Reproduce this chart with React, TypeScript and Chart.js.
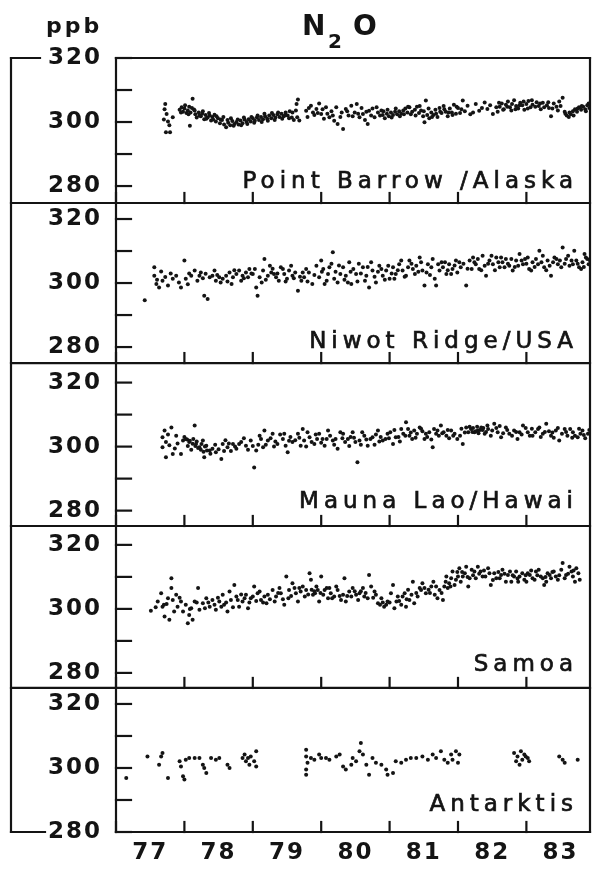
import React, { useEffect, useRef } from 'react';
import { Chart, registerables } from 'chart.js';

Chart.register(...registerables);

const INK = '#141414';
const FONT = '"DejaVu Sans", "Liberation Sans", sans-serif';

// Station names, one per panel (top to bottom)
const stations = ['Point Barrow /Alaska', 'Niwot Ridge/USA', 'Mauna Lao/Hawai', 'Samoa', 'Antarktis'];

// Axis ticks
const yearTicks = [77, 78, 79, 80, 81, 82, 83];
const yearLabels = ['77', '78', '79', '80', '81', '82', '83'];
const ppbTicks = [280, 290, 300, 310, 320];
const ppbLabels = ['280', '', '300', '', '320'];

// Axis ranges: time in years (19xx) and mixing ratio in ppb per panel
const yearMin = 77;
const yearMax = 83.93;
const panelMin = [274.7, 275, 275.2, 275.3, 280];
const panelMax = [320, 325, 326.1, 325.9, 325];

// N2O mixing ratios [year, ppb]
const pointBarrow: [number, number][] = [
  [77.72, 305.6], [77.71, 304.0], [77.74, 302.5], [77.70, 300.8], [77.76, 300.2], [77.73, 296.8], [77.79, 296.8],
  [77.78, 299.0], [77.83, 301.5], [77.93, 303.8], [77.96, 304.6], [77.98, 303.2], [78.00, 304.2], [78.03, 302.8],
  [78.05, 303.6], [78.07, 304.8], [78.09, 303.0], [78.12, 307.3], [78.14, 303.9], [78.16, 302.4], [78.18, 301.4],
  [78.08, 298.8], [78.21, 303.0], [78.24, 301.8], [78.26, 302.6], [78.29, 300.9], [78.31, 302.2], [78.34, 301.4],
  [78.36, 302.8], [78.39, 300.5], [78.41, 301.6], [78.44, 302.3], [78.46, 300.2], [78.49, 301.2], [78.52, 299.6],
  [78.55, 300.6], [78.58, 299.2], [78.61, 298.4], [78.64, 299.8], [78.67, 299.0], [78.70, 300.3], [78.73, 299.4],
  [78.76, 300.0], [78.79, 299.2], [78.82, 300.5], [78.85, 299.6], [78.88, 300.8], [78.91, 300.0], [78.94, 300.9],
  [78.97, 300.2], [79.00, 301.2], [79.03, 300.4], [79.06, 301.4], [79.09, 300.6], [79.12, 301.6], [79.15, 300.9],
  [79.18, 301.8], [79.21, 301.0], [79.24, 302.0], [79.27, 301.2], [79.30, 302.2], [79.33, 301.4], [79.36, 302.4],
  [79.39, 301.6], [79.42, 302.6], [79.45, 301.8], [79.48, 303.0], [79.51, 302.0], [79.54, 303.4], [79.57, 301.4],
  [79.60, 300.6], [79.66, 307.0], [79.64, 305.6], [79.63, 303.6], [79.65, 301.5], [79.68, 300.5], [79.78, 303.5],
  [79.85, 305.1], [79.93, 304.1], [80.00, 302.5], [80.07, 304.6], [80.12, 301.5], [80.19, 300.4], [80.24, 299.4],
  [80.32, 297.8], [80.36, 304.1], [80.44, 305.1], [80.49, 303.0], [80.56, 301.5], [80.61, 302.5], [80.68, 299.4],
  [80.70, 303.5], [80.78, 301.5], [80.83, 303.0], [79.80, 301.6], [79.90, 302.2], [79.97, 305.8], [80.04, 301.0],
  [80.15, 303.4], [80.28, 301.6], [80.40, 302.0], [80.52, 305.6], [80.64, 300.6], [80.75, 304.2], [80.86, 302.0],
  [80.90, 302.2], [80.93, 301.2], [80.96, 302.6], [80.99, 301.8], [81.02, 303.0], [81.05, 302.2], [81.08, 303.2],
  [81.11, 302.4], [81.14, 303.4], [81.17, 302.6], [81.20, 303.6], [81.23, 304.2], [81.26, 303.0], [81.29, 304.6],
  [81.31, 302.4], [81.37, 303.8], [81.40, 304.8], [81.43, 302.8], [81.46, 303.6], [81.49, 301.8], [81.51, 299.9],
  [81.53, 306.7], [81.55, 302.2], [81.58, 301.2], [81.61, 303.0], [81.64, 302.2], [81.67, 303.8], [81.70, 301.6],
  [81.73, 304.4], [81.76, 302.8], [81.79, 305.0], [81.82, 303.2], [81.85, 301.8], [81.88, 304.2], [81.91, 303.0],
  [81.94, 305.4], [81.97, 302.6], [82.00, 304.4], [82.07, 306.7], [82.14, 305.1], [82.22, 303.0], [82.26, 305.6],
  [82.31, 303.5], [82.39, 306.1], [82.43, 304.1], [82.51, 302.5], [82.56, 304.6], [82.03, 302.8], [82.05, 304.0],
  [82.10, 303.4], [82.18, 302.4], [82.35, 304.4], [82.47, 305.2], [82.58, 303.2], [82.61, 304.8], [82.64, 305.8],
  [82.67, 304.0], [82.70, 305.4], [82.73, 306.4], [82.76, 304.6], [82.79, 305.6], [82.82, 306.8], [82.85, 305.0],
  [82.88, 304.2], [82.91, 306.0], [82.94, 305.2], [82.97, 303.8], [83.00, 305.6], [83.03, 306.6], [83.06, 304.6],
  [83.09, 305.4], [83.36, 301.8], [83.15, 306.2], [83.18, 305.0], [83.21, 304.0], [83.24, 306.0], [83.53, 307.6],
  [83.30, 305.2], [83.33, 304.4], [83.40, 305.8], [83.44, 304.8], [83.48, 306.4], [83.56, 303.2], [83.59, 302.0],
  [83.62, 301.6], [83.65, 302.4], [83.68, 303.4], [83.71, 304.0], [83.74, 303.2], [83.77, 304.6], [83.80, 303.8],
  [83.83, 304.8], [83.86, 304.0], [83.89, 305.2], [83.92, 304.4],
  [78.22, 302.0], [78.27, 303.4], [78.32, 301.0], [78.37, 302.0], [78.42, 300.8], [78.47, 301.8], [78.53, 300.8],
  [78.57, 301.6], [78.63, 300.6], [78.68, 301.2], [78.72, 298.8], [78.78, 300.8], [78.83, 299.0], [78.87, 301.4],
  [78.92, 299.4], [78.98, 301.6], [79.02, 299.8], [79.07, 302.0], [79.13, 300.0], [79.17, 302.6], [79.22, 300.4],
  [79.28, 302.8], [79.32, 300.6], [79.37, 303.0], [79.43, 301.0], [79.47, 302.0], [79.53, 301.2], [79.58, 303.0],
  [80.91, 303.4], [80.97, 303.8], [81.03, 301.4], [81.09, 304.2], [81.15, 301.8], [81.21, 302.4], [81.27, 304.8],
  [81.33, 303.2], [81.38, 302.0], [81.44, 305.0], [81.50, 303.4], [81.57, 304.2], [81.62, 301.6], [81.68, 302.6],
  [81.74, 303.2], [81.80, 304.0], [81.86, 303.0], [81.92, 302.2], [81.98, 304.8],
  [82.60, 306.0], [82.66, 303.8], [82.72, 304.8], [82.78, 303.6], [82.84, 304.0], [82.90, 305.2], [82.96, 306.4],
  [83.02, 304.2], [83.08, 306.8], [83.13, 304.8], [83.20, 305.8], [83.26, 304.6], [83.32, 306.2], [83.38, 304.2],
  [83.46, 303.6], [83.50, 305.0], [83.57, 302.6], [83.63, 303.0], [83.69, 302.0], [83.75, 304.2], [83.81, 305.0],
  [83.87, 303.4], [83.91, 305.8],
  [77.95, 303.0], [78.01, 305.2], [78.06, 302.4], [78.11, 304.4], [78.15, 303.6],
  [79.82, 304.4], [79.88, 303.0], [79.95, 302.8], [80.02, 304.0], [80.09, 302.6], [80.17, 302.0], [80.22, 304.6],
  [80.30, 303.0], [80.38, 303.4], [80.46, 301.8], [80.54, 302.6], [80.59, 304.4], [80.66, 303.2], [80.73, 302.0],
  [80.81, 304.6], [80.88, 303.6],
];

const niwotRidge: [number, number][] = [
  [77.42, 294.6], [77.56, 304.9], [77.56, 302.3], [77.59, 299.7], [77.63, 298.6], [77.68, 300.7], [77.76, 299.2],
  [77.83, 301.3], [77.88, 302.3], [77.95, 298.6], [78.00, 307.0], [78.02, 301.3], [78.10, 302.3], [78.15, 303.9],
  [78.22, 302.3], [78.24, 303.3], [78.29, 296.0], [78.34, 295.0], [78.37, 301.8], [78.41, 302.3], [78.46, 300.7],
  [78.51, 301.8], [78.56, 301.3], [78.61, 302.3], [78.66, 303.3], [78.71, 301.8], [78.76, 302.8], [78.80, 303.9],
  [78.85, 302.3], [78.90, 303.3], [78.95, 304.4], [79.00, 302.8], [79.05, 298.6], [79.07, 296.0], [79.10, 301.8],
  [79.15, 303.9], [79.17, 307.5], [79.22, 302.3], [79.27, 303.3], [79.34, 301.8], [79.41, 304.9], [79.46, 302.8],
  [79.53, 303.9], [79.58, 302.3], [79.66, 297.6], [79.71, 300.7], [79.73, 303.3], [79.78, 304.4], [79.93, 305.4],
  [79.97, 301.8], [80.00, 307.0], [80.05, 299.7], [80.10, 302.8], [80.12, 304.9], [80.17, 309.6], [80.19, 301.3],
  [80.24, 300.2], [80.32, 304.9], [80.36, 302.3], [80.41, 306.5], [80.44, 299.7], [80.51, 302.8], [80.61, 304.9],
  [80.66, 302.3], [80.70, 298.6], [80.75, 303.9], [80.80, 300.2], [80.85, 305.4], [80.90, 302.3], [80.95, 303.9],
  [81.00, 301.3], [81.05, 304.9], [81.09, 302.8], [81.14, 305.9], [81.19, 303.9], [81.24, 302.3], [81.29, 307.0],
  [81.34, 304.4], [81.39, 305.4], [81.44, 308.0], [81.48, 303.9], [81.51, 299.2], [81.56, 305.9], [81.61, 304.9],
  [81.66, 301.3], [81.68, 299.2], [81.73, 303.9], [81.78, 304.9], [81.83, 302.8], [81.87, 305.9], [81.92, 304.4],
  [81.99, 303.3], [82.04, 304.9], [82.12, 299.2], [82.17, 307.0], [82.22, 308.0], [82.26, 305.9], [82.31, 304.4],
  [82.36, 308.5], [82.41, 302.3], [82.46, 307.0], [82.51, 305.9], [82.56, 308.0], [82.61, 304.9], [82.65, 306.5],
  [82.70, 307.5], [82.75, 305.4], [82.80, 303.9], [82.85, 307.0], [82.90, 309.1], [82.95, 305.9], [83.02, 308.0],
  [83.04, 304.4], [83.09, 306.5], [83.14, 307.5], [83.19, 310.1], [83.26, 304.9], [83.31, 307.0], [83.36, 302.3],
  [83.41, 308.0], [83.46, 305.9], [83.53, 311.1], [83.58, 307.5], [83.63, 305.4], [83.70, 310.1], [83.73, 307.0],
  [83.77, 304.9], [83.82, 306.5], [83.87, 308.0], [83.91, 305.9],
  [77.66, 303.6], [77.72, 301.9], [77.92, 300.2], [78.05, 299.6], [78.19, 300.7], [78.31, 302.9], [78.44, 303.9],
  [78.53, 300.2], [78.69, 299.7], [78.83, 300.7], [78.93, 301.8], [79.03, 304.4], [79.13, 300.2], [79.25, 305.4],
  [79.31, 302.8], [79.38, 300.7], [79.44, 304.4], [79.50, 301.3], [79.56, 305.4], [79.62, 303.3], [79.75, 301.8],
  [79.82, 303.3], [79.87, 299.7], [80.03, 304.4], [80.08, 300.7], [80.15, 306.0], [80.28, 302.8], [80.39, 300.2],
  [80.47, 304.4], [80.55, 306.0], [80.64, 300.7], [80.73, 306.5], [80.88, 304.4], [80.98, 305.4], [81.07, 301.3],
  [81.17, 307.0], [81.27, 304.9], [81.37, 302.8], [81.46, 306.5], [81.54, 303.3], [81.63, 307.5], [81.71, 305.9],
  [81.81, 306.5], [81.90, 302.8], [81.97, 307.0], [82.08, 306.0], [82.20, 304.4], [82.29, 307.5], [82.39, 305.4],
  [82.49, 308.5], [82.59, 306.5], [82.68, 304.9], [82.78, 307.5], [82.88, 305.4], [82.98, 307.5], [83.07, 303.9],
  [83.17, 305.9], [83.24, 308.5], [83.34, 305.4], [83.44, 307.5], [83.51, 304.9], [83.61, 308.5], [83.68, 305.9],
  [83.80, 304.4], [83.85, 309.1], [83.93, 307.0],
  [77.60, 301.0], [77.80, 303.0], [78.07, 303.0], [78.27, 301.5], [78.48, 302.5], [78.63, 300.5], [78.73, 304.0],
  [78.87, 301.5], [78.98, 303.0], [79.19, 301.0], [79.29, 304.5], [79.36, 303.0], [79.48, 300.5], [79.60, 301.5],
  [79.69, 302.0], [79.80, 300.5], [79.90, 302.5], [80.01, 303.5], [80.21, 303.5], [80.26, 305.5], [80.34, 301.0],
  [80.43, 303.5], [80.53, 300.5], [80.58, 303.0], [80.68, 305.0], [80.78, 302.0], [80.83, 303.5], [80.93, 301.0],
  [81.03, 303.0], [81.12, 304.0], [81.22, 302.0], [81.32, 306.0], [81.42, 303.5], [81.59, 302.5], [81.76, 306.5],
  [81.85, 304.0], [81.95, 305.5], [82.02, 306.5], [82.14, 304.5], [82.24, 306.5], [82.34, 304.0], [82.44, 306.0],
  [82.54, 304.0], [82.63, 308.0], [82.73, 306.0], [82.83, 305.0], [82.93, 307.0], [83.00, 306.0], [83.12, 305.0],
  [83.22, 306.5], [83.29, 304.0], [83.39, 306.5], [83.49, 307.0], [83.56, 306.0], [83.66, 307.0], [83.75, 306.0],
  [83.84, 305.0], [83.89, 307.5],
];

const maunaLoa: [number, number][] = [
  [77.71, 305.0], [77.68, 302.9], [77.73, 301.4], [77.68, 299.8], [77.73, 296.7], [77.81, 306.0], [77.83, 297.7],
  [77.88, 303.4], [77.95, 297.7], [77.98, 301.9], [78.02, 302.4], [78.07, 301.4], [78.15, 306.6], [78.17, 300.8],
  [78.22, 299.8], [78.27, 301.9], [78.29, 296.7], [78.32, 300.3], [78.37, 298.8], [78.41, 299.3], [78.46, 298.2],
  [78.54, 296.1], [78.56, 300.8], [78.63, 299.8], [78.71, 300.8], [78.76, 299.3], [78.83, 301.4], [78.90, 300.3],
  [78.97, 301.9], [79.02, 293.5], [79.05, 298.8], [79.12, 302.4], [79.17, 305.0], [79.22, 301.9], [79.29, 304.0],
  [79.36, 300.8], [79.44, 302.4], [79.51, 298.2], [79.58, 301.4], [79.66, 304.0], [79.73, 305.5], [79.75, 301.9],
  [79.83, 302.9], [79.90, 300.8], [79.97, 304.0], [80.02, 302.4], [80.10, 305.0], [80.17, 301.9], [80.24, 299.3],
  [80.32, 304.0], [80.39, 302.4], [80.46, 304.5], [80.53, 295.1], [80.56, 301.9], [80.63, 303.4], [80.68, 300.3],
  [80.75, 302.9], [80.83, 305.0], [80.90, 301.9], [80.97, 304.0], [81.05, 300.8], [81.09, 302.9], [81.17, 305.5],
  [81.24, 307.6], [81.29, 303.4], [81.36, 305.0], [81.44, 306.0], [81.51, 302.4], [81.58, 304.5], [81.63, 299.8],
  [81.68, 304.0], [81.75, 306.6], [81.83, 303.4], [81.90, 305.0], [81.99, 302.4], [82.07, 300.8], [82.12, 306.0],
  [82.19, 305.5], [82.24, 304.5], [82.29, 305.0], [82.34, 306.0], [82.39, 304.0], [82.44, 305.5], [82.48, 303.4],
  [82.53, 307.1], [82.58, 304.5], [82.63, 302.9], [82.70, 306.0], [82.75, 304.0], [82.82, 305.0], [82.87, 302.4],
  [82.95, 306.6], [83.02, 304.5], [83.09, 303.4], [83.17, 305.5], [83.24, 304.0], [83.29, 307.1], [83.36, 303.4],
  [83.43, 305.0], [83.48, 301.9], [83.56, 305.5], [83.60, 303.4], [83.68, 304.5], [83.75, 302.9], [83.82, 305.0],
  [83.90, 304.0],
  [78.00, 303.0], [78.04, 302.2], [78.08, 301.8], [78.12, 300.9], [78.16, 300.2], [78.20, 299.6], [78.24, 299.0],
  [78.28, 298.4], [78.33, 298.8], [78.38, 297.8], [78.05, 300.2], [78.13, 302.4], [78.25, 300.8],
  [77.76, 303.8], [77.90, 301.0], [78.45, 300.6], [78.60, 302.0], [78.68, 298.6], [78.80, 300.8], [78.87, 302.6],
  [79.08, 300.6], [79.15, 299.8], [79.26, 302.6], [79.33, 301.6], [79.40, 303.8], [79.48, 300.3], [79.55, 303.0],
  [79.62, 302.0], [79.70, 300.3], [79.80, 304.5], [79.86, 301.4], [79.94, 302.4], [80.05, 300.3], [80.13, 303.4],
  [80.21, 302.4], [80.28, 304.5], [80.35, 301.4], [80.43, 303.0], [80.50, 301.4], [80.60, 304.5], [80.72, 302.4],
  [80.80, 303.8], [80.87, 303.0], [80.94, 302.4], [81.01, 304.5], [81.13, 303.0], [81.20, 304.0], [81.27, 305.5],
  [81.33, 302.4], [81.40, 304.0], [81.48, 304.8], [81.55, 303.0], [81.65, 305.5], [81.72, 303.4], [81.79, 304.5],
  [81.87, 302.6], [81.95, 304.0], [82.03, 303.4], [82.15, 304.5], [82.22, 305.8], [82.26, 304.8], [82.32, 305.2],
  [82.37, 305.8], [82.41, 304.6], [82.56, 305.8], [82.66, 304.2], [82.79, 303.4], [82.90, 304.5], [82.99, 305.8],
  [83.05, 303.4], [83.13, 304.5], [83.21, 303.0], [83.33, 304.8], [83.40, 302.8], [83.52, 304.0], [83.64, 305.5],
  [83.71, 303.4], [83.79, 304.0], [83.86, 302.6],
  [77.78, 300.4], [77.86, 299.4], [78.10, 299.0], [78.18, 301.6], [78.30, 300.0], [78.50, 299.2], [78.58, 298.6],
  [78.65, 301.0], [78.74, 300.0], [78.93, 299.0], [79.00, 300.2], [79.10, 303.4], [79.19, 300.6], [79.31, 300.0],
  [79.46, 304.0], [79.53, 301.8], [79.68, 302.8], [79.78, 300.0], [79.92, 303.8], [80.00, 301.2], [80.08, 302.4],
  [80.19, 300.6], [80.31, 302.6], [80.41, 300.2], [80.48, 302.8], [80.58, 300.6], [80.66, 302.2], [80.78, 300.6],
  [80.85, 301.6], [80.99, 302.6], [81.07, 305.2], [81.15, 301.6], [81.23, 303.4], [81.31, 304.4], [81.38, 302.8],
  [81.46, 305.6], [81.53, 304.0], [81.61, 302.2], [81.70, 305.0], [81.77, 304.2], [81.85, 305.2], [81.93, 303.4],
  [82.05, 305.6], [82.10, 304.4], [82.17, 306.2], [82.21, 304.6], [82.28, 306.2], [82.30, 304.2], [82.36, 305.2],
  [82.43, 306.6], [82.50, 305.0], [82.61, 306.4], [82.72, 305.2], [82.85, 304.6], [82.93, 303.8], [83.08, 305.6],
  [83.19, 306.0], [83.27, 304.6], [83.38, 304.4], [83.46, 305.8], [83.58, 304.6], [83.67, 302.8], [83.77, 305.6],
  [83.84, 303.6], [83.92, 305.2],
];

const samoa: [number, number][] = [
  [77.51, 299.4], [77.61, 302.3], [77.66, 304.9], [77.68, 300.7], [77.71, 297.6], [77.76, 303.3], [77.78, 296.6],
  [77.81, 309.6], [77.81, 306.5], [77.83, 302.8], [77.85, 299.2], [77.90, 300.7], [77.95, 302.3], [77.98, 299.2],
  [78.02, 301.3], [78.05, 295.5], [78.07, 298.1], [78.12, 296.6], [78.15, 302.3], [78.20, 306.5], [78.22, 299.7],
  [78.27, 301.8], [78.32, 303.3], [78.37, 300.7], [78.41, 302.8], [78.46, 299.7], [78.51, 302.3], [78.56, 304.4],
  [78.58, 301.3], [78.63, 299.2], [78.68, 302.8], [78.73, 307.5], [78.76, 303.9], [78.80, 300.7], [78.85, 302.3],
  [78.90, 304.4], [78.93, 300.2], [78.97, 303.3], [79.02, 307.0], [79.07, 304.9], [79.12, 302.8], [79.17, 303.9],
  [79.22, 304.4], [79.29, 305.9], [79.34, 303.9], [79.41, 304.9], [79.46, 301.3], [79.49, 310.1], [79.53, 305.9],
  [79.58, 308.0], [79.63, 304.9], [79.66, 302.3], [79.73, 307.0], [79.78, 305.9], [79.83, 311.1], [79.85, 309.1],
  [79.88, 304.4], [79.93, 307.0], [79.97, 302.3], [80.00, 310.1], [80.05, 305.9], [80.10, 303.3], [80.14, 304.9],
  [80.19, 303.9], [80.24, 305.9], [80.29, 302.8], [80.34, 309.6], [80.36, 302.3], [80.41, 305.4], [80.46, 306.5],
  [80.51, 304.4], [80.56, 304.9], [80.63, 303.9], [80.70, 310.6], [80.73, 307.0], [80.78, 305.4], [80.83, 301.8],
  [80.88, 303.3], [80.92, 300.7], [80.97, 302.3], [81.05, 307.5], [81.07, 300.2], [81.12, 303.9], [81.17, 301.3],
  [81.22, 304.9], [81.24, 300.7], [81.29, 302.8], [81.34, 308.5], [81.36, 301.8], [81.44, 306.5], [81.48, 308.0],
  [81.53, 304.9], [81.61, 307.0], [81.66, 304.4], [81.73, 305.9], [81.78, 302.8], [81.83, 310.1], [81.87, 308.0],
  [81.92, 311.7], [81.97, 309.1], [82.02, 312.7], [82.07, 310.1], [82.12, 313.2], [82.17, 309.6], [82.24, 311.7],
  [82.29, 313.2], [82.36, 310.1], [82.44, 312.7], [82.48, 307.5], [82.53, 311.1], [82.61, 309.6], [82.65, 312.2],
  [82.73, 310.6], [82.78, 308.5], [82.85, 311.7], [82.90, 310.1], [82.97, 309.1], [83.02, 311.1], [83.09, 309.6],
  [83.14, 311.7], [83.21, 310.1], [83.26, 307.5], [83.31, 311.1], [83.36, 309.6], [83.43, 310.1], [83.51, 312.2],
  [83.53, 314.3], [83.58, 310.6], [83.63, 313.2], [83.68, 310.1], [83.73, 312.7], [83.78, 309.1],
  [77.70, 301.3], [77.88, 304.4], [78.10, 300.2], [78.30, 300.2], [78.44, 301.3], [78.54, 300.7], [78.66, 305.4],
  [78.78, 302.8], [78.88, 303.3], [79.00, 303.9], [79.10, 305.4], [79.20, 301.8], [79.32, 302.3], [79.39, 306.5],
  [79.52, 303.3], [79.61, 306.5], [79.70, 305.4], [79.76, 303.9], [79.86, 306.0], [79.91, 304.9], [79.95, 305.9],
  [80.03, 304.4], [80.08, 306.5], [80.16, 303.3], [80.22, 307.0], [80.32, 304.4], [80.44, 303.9], [80.54, 302.8],
  [80.61, 306.5], [80.68, 303.3], [80.80, 304.4], [80.86, 301.3], [80.95, 301.3], [81.02, 304.9], [81.10, 302.3],
  [81.19, 303.9], [81.27, 306.0], [81.32, 304.4], [81.41, 303.9], [81.46, 305.9], [81.57, 306.0], [81.64, 308.5],
  [81.70, 303.3], [81.80, 307.0], [81.85, 306.5], [81.90, 309.6], [81.95, 307.5], [82.00, 310.1], [82.04, 308.5],
  [82.10, 311.1], [82.15, 307.0], [82.20, 312.2], [82.26, 309.6], [82.33, 311.7], [82.40, 310.1], [82.46, 311.1],
  [82.56, 309.6], [82.63, 310.6], [82.70, 308.5], [82.76, 311.7], [82.82, 310.1], [82.88, 308.5], [82.94, 311.1],
  [83.00, 308.5], [83.05, 310.6], [83.12, 309.1], [83.18, 312.2], [83.24, 309.6], [83.29, 308.5], [83.34, 310.6],
  [83.40, 311.7], [83.46, 309.1], [83.56, 309.6], [83.66, 311.7], [83.71, 308.5], [83.76, 311.1],
  [77.58, 300.5], [77.74, 301.5], [77.93, 303.5], [78.08, 300.0], [78.18, 302.0], [78.35, 302.0], [78.49, 303.5],
  [78.61, 302.0], [78.71, 300.5], [78.83, 304.5], [78.95, 302.0], [79.05, 302.5], [79.15, 302.0], [79.25, 303.0],
  [79.37, 305.0], [79.44, 303.0], [79.56, 304.0], [79.68, 306.5], [79.81, 304.5], [79.90, 305.5], [79.99, 305.0],
  [80.12, 306.5], [80.27, 304.0], [80.38, 304.0], [80.49, 305.5], [80.58, 305.5], [80.65, 305.0], [80.76, 303.5],
  [80.90, 302.0], [81.00, 302.0], [81.14, 302.5], [81.25, 303.0], [81.39, 305.0], [81.51, 306.5], [81.59, 305.0],
  [81.68, 307.0], [81.76, 305.0], [81.82, 308.5], [81.89, 307.0], [81.99, 311.5], [82.06, 311.5], [82.14, 310.0],
  [82.22, 310.5], [82.31, 311.0], [82.38, 312.0], [82.51, 309.0], [82.59, 311.5], [82.68, 311.0], [82.80, 310.5],
  [82.87, 309.5], [82.99, 310.5], [83.07, 312.0], [83.16, 310.5], [83.28, 310.0], [83.38, 311.5], [83.48, 310.5],
  [83.61, 311.0], [83.69, 312.0],
];

const antarctica: [number, number][] = [
  [77.15, 296.9], [77.46, 303.6], [77.66, 303.6], [77.63, 301.0], [77.76, 296.9], [77.68, 304.7], [77.93, 302.1],
  [77.95, 300.5], [77.98, 297.4], [78.00, 296.4], [78.02, 302.6], [78.07, 303.1], [78.15, 303.1], [78.22, 303.1],
  [78.27, 301.0], [78.29, 300.0], [78.32, 298.4], [78.39, 303.1], [78.46, 302.6], [78.51, 303.1], [78.63, 301.0],
  [78.66, 300.0], [78.85, 303.1], [78.88, 304.2], [78.90, 302.1], [78.93, 303.1], [78.95, 301.0], [78.97, 303.6],
  [79.02, 302.1], [79.05, 305.2], [79.05, 300.5],
  [79.78, 305.7], [79.78, 303.6], [79.80, 301.6], [79.78, 299.5], [79.78, 297.9], [79.85, 303.1], [79.90, 302.6],
  [79.97, 304.2], [80.00, 303.1], [80.07, 303.1], [80.12, 302.6], [80.22, 303.6], [80.27, 304.2], [80.32, 300.5],
  [80.36, 299.5], [80.44, 301.0], [80.46, 303.1], [80.51, 302.1], [80.56, 305.2], [80.58, 307.8], [80.61, 304.2],
  [80.66, 301.0], [80.70, 297.9], [80.75, 303.1], [80.80, 301.6], [80.88, 301.0], [80.95, 299.5], [80.97, 297.9],
  [81.05, 298.4], [81.09, 302.1], [81.17, 301.6], [81.24, 302.6], [81.31, 303.1], [81.39, 303.1], [81.48, 303.6],
  [81.56, 302.6], [81.63, 304.2], [81.68, 303.1], [81.75, 305.2], [81.80, 302.6], [81.85, 301.6], [81.90, 304.2],
  [81.92, 302.6], [81.97, 305.2], [82.02, 304.2], [82.00, 301.6],
  [82.82, 304.7], [82.87, 303.6], [82.92, 305.2], [82.97, 304.2], [83.02, 303.1], [82.85, 302.1], [82.94, 302.6],
  [82.90, 301.0], [83.04, 302.1], [82.99, 303.6],
  [83.48, 303.6], [83.56, 301.6], [83.75, 302.6], [83.53, 302.6],
];

const series = [pointBarrow, niwotRidge, maunaLoa, samoa, antarctica];
const panelIds = ['barrow', 'niwot', 'mauna', 'samoa', 'antarktis'];
// distance of each station name's baseline above its panel's lower edge
const nameLift = [15, 15, 18, 17, 21];

// Frame, inward tick marks, station names and headings
const decorPlugin = {
  id: 'decor',
  beforeDraw(chart: any) {
    chart.ctx.letterSpacing = '2px';
  },
  afterDraw(chart: any) {
    const { ctx, chartArea: a } = chart;
    const xs = chart.scales.x;
    ctx.save();
    ctx.strokeStyle = INK;
    ctx.lineWidth = 2.2;
    ctx.lineCap = 'square';
    const line = (x1: number, y1: number, x2: number, y2: number) => {
      ctx.beginPath();
      ctx.moveTo(x1, y1);
      ctx.lineTo(x2, y2);
      ctx.stroke();
    };
    const bracketX = 11;
    line(bracketX, a.top, bracketX, a.bottom);
    line(bracketX, a.top, 40, a.top);
    line(bracketX, a.bottom, 45, a.bottom);
    line(a.left, a.top, a.right, a.top);
    line(a.left, a.bottom, a.right, a.bottom);
    line(a.left, a.top, a.left, a.bottom);
    line(a.right, a.top, a.right, a.bottom);

    panelIds.forEach((id, i) => {
      const s = chart.scales[id];
      if (i < panelIds.length - 1) line(bracketX, s.bottom, a.right, s.bottom);
      ppbTicks.forEach((v) => {
        const y = s.getPixelForValue(v);
        line(a.left, y, a.left + 15, y);
      });
      yearTicks.forEach((v) => {
        const x = xs.getPixelForValue(v);
        line(x, s.bottom, x, s.bottom - 10);
      });
    });

    ctx.fillStyle = INK;
    ctx.strokeStyle = INK;
    ctx.lineWidth = 0.7;
    ctx.font = `23px ${FONT}`;
    ctx.letterSpacing = '5px';
    ctx.textAlign = 'right';
    ctx.textBaseline = 'alphabetic';
    stations.forEach((name, i) => {
      const s = chart.scales[panelIds[i]];
      const x = a.right - 12;
      const y = s.bottom - nameLift[i];
      ctx.fillText(name, x, y);
      ctx.strokeText(name, x, y);
    });

    ctx.textAlign = 'left';
    ctx.letterSpacing = '0px';
    ctx.font = `bold 28px ${FONT}`;
    ctx.fillText('N', 302, 35);
    ctx.font = `bold 20px ${FONT}`;
    ctx.fillText('2', 328, 48);
    ctx.font = `bold 28px ${FONT}`;
    ctx.fillText('O', 353, 35);

    ctx.letterSpacing = '3px';
    ctx.font = `bold 22px ${FONT}`;
    ctx.fillText('ppb', 46, 33);
    ctx.restore();
  },
};

export default function App() {
  const canvasRef = useRef<HTMLCanvasElement>(null);

  useEffect(() => {
    const canvas = canvasRef.current;
    if (!canvas) return;

    const tickFont = { family: FONT, size: 23, weight: 'bold' as const };

    const scales: any = {
      x: {
        type: 'linear',
        position: 'bottom',
        min: yearMin,
        max: yearMax,
        afterBuildTicks: (s: any) => {
          s.ticks = yearTicks.map((v) => ({ value: v + 0.5 }));
        },
        afterFit: (s: any) => {
          s.height = 37;
        },
        ticks: {
          autoSkip: false,
          maxRotation: 0,
          padding: 7,
          color: INK,
          font: tickFont,
          callback: (_v: any, i: number) => yearLabels[i],
        },
        grid: { display: false, drawTicks: false },
        border: { display: false },
      },
    };

    panelIds.forEach((id, i) => {
      scales[id] = {
        type: 'linear',
        position: 'left',
        stack: 'ppb',
        stackWeight: panelMax[i] - panelMin[i],
        weight: panelIds.length - i,
        min: panelMin[i],
        max: panelMax[i],
        afterBuildTicks: (s: any) => {
          s.ticks = ppbTicks.map((v) => ({ value: v }));
        },
        afterFit: (s: any) => {
          s.width = 116;
        },
        ticks: {
          autoSkip: false,
          padding: 14,
          color: INK,
          font: tickFont,
          callback: (_v: any, k: number) => ppbLabels[k],
        },
        grid: { display: false, drawTicks: false },
        border: { display: false },
      };
    });

    const chart = new Chart(canvas, {
      type: 'scatter',
      data: {
        datasets: series.map((data, i) => ({
          label: stations[i],
          data: data.map(([x, y]) => ({ x, y })),
          xAxisID: 'x',
          yAxisID: panelIds[i],
          pointRadius: 2,
          pointHoverRadius: 2,
          pointBorderWidth: 0,
          pointBackgroundColor: INK,
          showLine: false,
        })),
      },
      options: {
        responsive: false,
        maintainAspectRatio: false,
        animation: false,
        devicePixelRatio: 1,
        events: [],
        layout: { padding: { left: 0, right: 2, top: 58, bottom: 0 } },
        plugins: {
          legend: { display: false },
          tooltip: { enabled: false },
          title: { display: false },
        },
        scales,
      },
      plugins: [decorPlugin],
    });

    return () => chart.destroy();
  }, []);

  return (
    <div style={{ position: 'absolute', left: 0, top: 0, width: 592, height: 869, background: '#fff' }}>
      <canvas ref={canvasRef} width={592} height={869} style={{ display: 'block' }} />
    </div>
  );
}
